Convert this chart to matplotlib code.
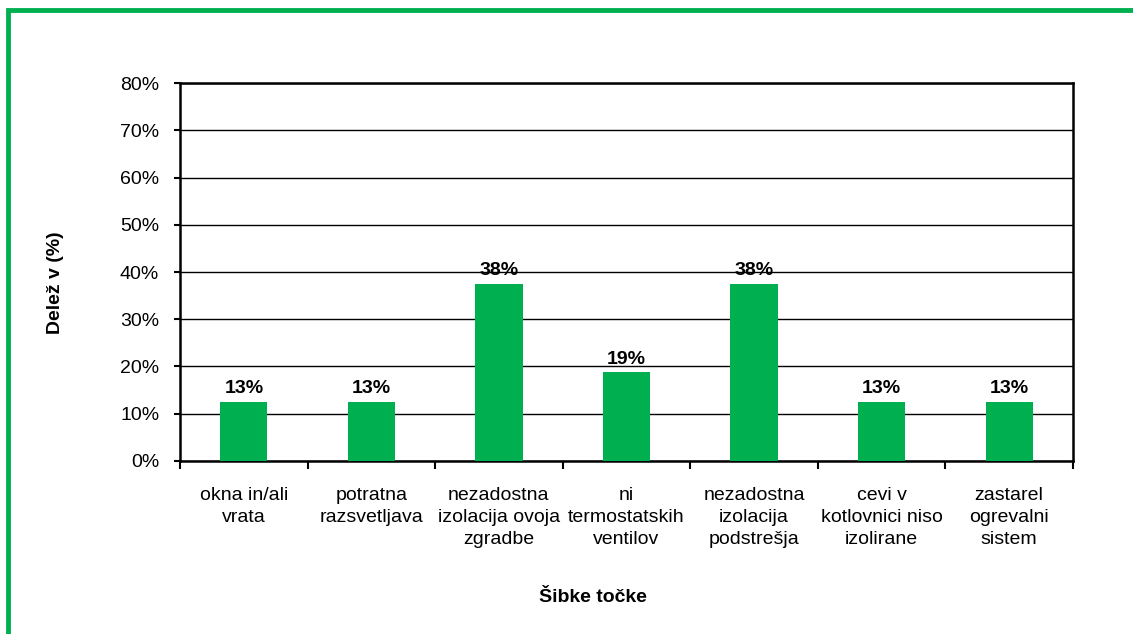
import matplotlib.pyplot as plt
from matplotlib.patches import Rectangle
import numpy as np

plt.rcParams['font.family'] = ['Liberation Sans', 'DejaVu Sans']

# podatki
kategorije = ['okna in/ali\nvrata', 'potratna\nrazsvetljava',
              'nezadostna\nizolacija ovoja\nzgradbe', 'ni\ntermostatskih\nventilov',
              'nezadostna\nizolacija\npodstrešja', 'cevi v\nkotlovnici niso\nizolirane',
              'zastarel\nogrevalni\nsistem']
delezi = [12.5, 12.5, 37.5, 18.75, 37.5, 12.5, 12.5]
oznake = ['13%', '13%', '38%', '19%', '38%', '13%', '13%']
y_ticks = [0, 10, 20, 30, 40, 50, 60, 70, 80]

zelena = '#00B050'

fig = plt.figure(figsize=(11.33, 6.34), dpi=100)
ax = fig.add_axes([0.1589, 0.2729, 0.947 - 0.1589, 0.869 - 0.2729])

x = np.arange(len(kategorije))
ax.bar(x, delezi, width=0.37, color=zelena, zorder=3)

for xi, v, lab in zip(x, delezi, oznake):
    ax.text(xi, v + 1.0, lab, ha='center', va='bottom', fontsize=14,
            fontweight='bold', zorder=2)

ax.set_xlim(-0.5, len(kategorije) - 0.5)
ax.set_ylim(0, 80)
ax.set_yticks(y_ticks)
ax.set_yticklabels([f'{t}%' for t in y_ticks], fontsize=14)
ax.yaxis.grid(True, color='black', linewidth=1, zorder=0)

# kljukice med kategorijami
ax.set_xticks(np.arange(len(kategorije) + 1) - 0.5)
ax.set_xticklabels([])
ax.set_xticks(x, minor=True)
ax.set_xticklabels(kategorije, minor=True, fontsize=14, linespacing=1.38)
ax.tick_params(axis='x', which='minor', length=0, pad=19)
ax.tick_params(axis='x', which='major', length=6, width=1.5)
ax.tick_params(axis='y', length=4, width=1.5, pad=11)

for s in ax.spines.values():
    s.set_linewidth(1.8)
    s.set_color('black')

fig.text(55 / 1133, 1 - 283 / 634, 'Delež v (%)', ha='center', va='center',
         rotation=90, fontsize=14, fontweight='bold')
fig.text(593 / 1133, 1 - 597 / 634, 'Šibke točke', ha='center', va='center',
         fontsize=14, fontweight='bold')

# zelen okvir
fig.patches.append(Rectangle((8 / 1133, -0.1), 1.2, 1 - 10 / 634 + 0.1,
                             transform=fig.transFigure, fill=False,
                             edgecolor=zelena, linewidth=3.5))

fig.savefig('out.png', dpi=100)
